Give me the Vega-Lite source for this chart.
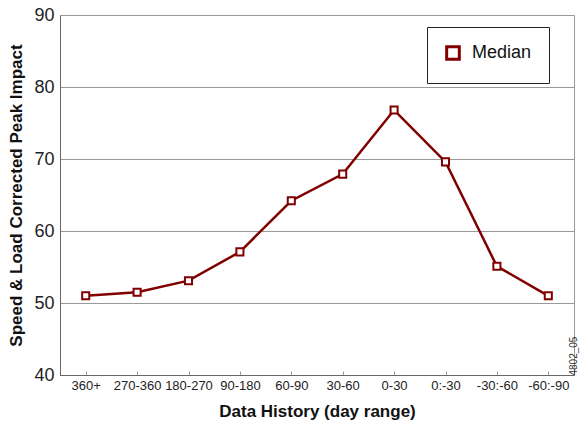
{
  "$schema": "https://vega.github.io/schema/vega-lite/v6.json",
  "width": 514,
  "height": 360,
  "autosize": {"type": "none"},
  "padding": {"left": 60, "top": 15, "right": 11, "bottom": 53},
  "background": "white",
  "config": {
    "font": "Liberation Sans",
    "view": {"stroke": "#999", "strokeWidth": 1}
  },
  "data": {
    "values": [
      {"range": "360+", "impact": 51.0, "series": "Median"},
      {"range": "270-360", "impact": 51.5, "series": "Median"},
      {"range": "180-270", "impact": 53.1, "series": "Median"},
      {"range": "90-180", "impact": 57.1, "series": "Median"},
      {"range": "60-90", "impact": 64.2, "series": "Median"},
      {"range": "30-60", "impact": 67.9, "series": "Median"},
      {"range": "0-30", "impact": 76.8, "series": "Median"},
      {"range": "0:-30", "impact": 69.6, "series": "Median"},
      {"range": "-30:-60", "impact": 55.1, "series": "Median"},
      {"range": "-60:-90", "impact": 51.0, "series": "Median"}
    ]
  },
  "encoding": {
    "x": {
      "field": "range", "type": "ordinal", "sort": null,
      "scale": {"paddingOuter": 0.5},
      "axis": {
        "title": "Data History (day range)", "titleFontSize": 17, "titleFontWeight": "bold",
        "titleColor": "#111", "titlePadding": 11,
        "labelAngle": 0, "labelFontSize": 13, "labelColor": "#222",
        "labelPadding": 8,
        "tickSize": -4, "tickColor": "#999", "domainColor": "#666", "grid": false
      }
    },
    "color": {
      "field": "series", "type": "nominal",
      "scale": {"range": ["#800000"]},
      "legend": {
        "title": null, "orient": "none", "legendX": 367, "legendY": 12,
        "fillColor": "white", "strokeColor": "#222", "padding": 17,
        "symbolType": "square", "symbolSize": 160, "symbolStrokeWidth": 3,
        "symbolFillColor": "white", "labelFontSize": 18, "labelColor": "#111",
        "labelOffset": 10
      }
    }
  },
  "layer": [
    {
      "layer": [
        {"mark": {"type": "line", "strokeWidth": 2.5}},
        {"mark": {"type": "point", "shape": "square", "filled": false, "size": 50, "strokeWidth": 2, "fill": "white", "opacity": 1}}
      ],
      "encoding": {
        "y": {
          "field": "impact", "type": "quantitative",
          "scale": {"domain": [40, 90], "nice": false},
          "axis": {
            "title": "Speed & Load Corrected Peak Impact", "titleFontSize": 17, "titleFontWeight": "bold",
            "titleColor": "#111", "titlePadding": 8,
            "values": [40, 50, 60, 70, 80, 90],
            "labelFontSize": 18, "labelColor": "#222", "labelPadding": 6,
            "ticks": false, "domainColor": "#666",
            "grid": true, "gridColor": "#999", "gridWidth": 1
          }
        }
      }
    },
    {
      "mark": {"type": "point", "opacity": 0},
      "encoding": {
        "y": {
          "field": "impact", "type": "quantitative",
          "scale": {"domain": [40, 90], "nice": false},
          "axis": {
            "orient": "right", "labels": false, "ticks": false, "domain": false, "grid": false,
            "title": "4802_05", "titleFontSize": 10, "titleFontWeight": "normal", "titleColor": "#333",
            "titleAnchor": "start", "titlePadding": 4, "titleAngle": 270
          }
        },
        "color": {"value": "transparent"}
      }
    }
  ],
  "resolve": {"scale": {"y": "independent"}}
}
